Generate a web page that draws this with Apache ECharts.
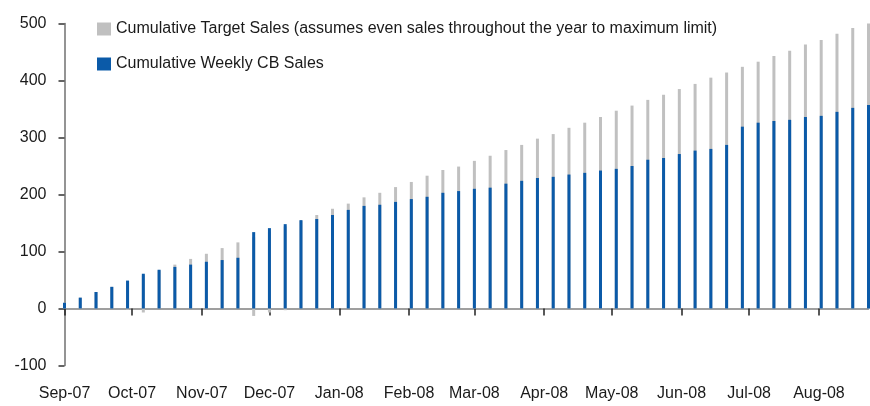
<!DOCTYPE html>
<html>
<head>
<meta charset="utf-8">
<script src="https://cdn.jsdelivr.net/npm/echarts@6/dist/echarts.min.js"></script>
<style>
  html, body { margin: 0; padding: 0; background: #fff; }
  #chart { width: 870px; height: 406px; }
</style>
</head>
<body>
<div id="chart"></div>
<script>
// weekly points, Sep-07 .. Aug-08
var weeks = [
  '2007-09-01', '2007-09-08', '2007-09-15', '2007-09-22', '2007-09-29',
  '2007-10-06', '2007-10-13', '2007-10-20', '2007-10-27',
  '2007-11-03', '2007-11-10', '2007-11-17', '2007-11-24',
  '2007-12-01', '2007-12-08', '2007-12-15', '2007-12-22', '2007-12-29',
  '2008-01-05', '2008-01-12', '2008-01-19', '2008-01-26',
  '2008-02-02', '2008-02-09', '2008-02-16', '2008-02-23',
  '2008-03-01', '2008-03-08', '2008-03-15', '2008-03-22', '2008-03-29',
  '2008-04-05', '2008-04-12', '2008-04-19', '2008-04-26',
  '2008-05-03', '2008-05-10', '2008-05-17', '2008-05-24', '2008-05-31',
  '2008-06-07', '2008-06-14', '2008-06-21', '2008-06-28',
  '2008-07-05', '2008-07-12', '2008-07-19', '2008-07-26',
  '2008-08-02', '2008-08-09', '2008-08-16', '2008-08-23'
];

var targetSales = [
  10, 19, 29, 38, 48, 58, 67, 77, 87, 96, 106, 116, 125,
  135, 144, 154, 164, 175, 184, 195, 203, 213, 222, 233, 243, 249,
  259, 268, 278, 287, 298, 306, 317, 326, 336, 347, 356, 366, 375,
  385, 394, 405, 414, 424, 433, 443, 452, 463, 471, 482, 492, 500
];

var weeklyCB = [
  10, 19, 29, 38, 49, 61, 68, 73, 77, 82, 85, 89, 134,
  141, 148, 155, 157, 164, 173, 180, 182, 187, 192, 196, 203, 206,
  210, 212, 219, 224, 229, 231, 235, 238, 242, 245, 250, 261, 264,
  271, 277, 280, 287, 319, 326, 329, 331, 336, 338, 345, 352, 357
];

// small grey marks under the zero line
var belowZero = [
  0, 0, 0, 0, -2, -7, 0, 0, 0, 0, 0, 0, -13,
  -7, -3, 0, 0, 0, 0, 0, 0, 0, 0, 0, 0, 0,
  0, 0, 0, 0, 0, 0, 0, 0, 0, 0, 0, 0, 0,
  0, 0, 0, 0, 0, 0, 0, 0, 0, 0, 0, 0, 0
];

var monthStarts = [
  '2007-09-01', '2007-10-01', '2007-11-01', '2007-12-01', '2008-01-01', '2008-02-01',
  '2008-03-01', '2008-04-01', '2008-05-01', '2008-06-01', '2008-07-01', '2008-08-01'
];
var monthLabels = [
  'Sep-07', 'Oct-07', 'Nov-07', 'Dec-07', 'Jan-08', 'Feb-08',
  'Mar-08', 'Apr-08', 'May-08', 'Jun-08', 'Jul-08', 'Aug-08'
];

var yTicks = { min: -100, max: 500, step: 100 };

var GREY = '#c0c0c0';
var BLUE = '#0b5aa8';
var FONT = 'Liberation Sans, Arial, sans-serif';
var DAY = 86400000;

// days since first week, as plain numbers for a value axis
function dayNo(d) {
  var p = d.split('-');
  var t = Date.UTC(+p[0], +p[1] - 1, +p[2]);
  var p0 = weeks[0].split('-');
  return Math.round((t - Date.UTC(+p0[0], +p0[1] - 1, +p0[2])) / DAY);
}

var monthDays = monthStarts.map(dayNo);
var xMin = dayNo(weeks[0]);
var xMax = dayNo(weeks[weeks.length - 1]);

function pairs(vals) {
  return weeks.map(function (w, i) { return [dayNo(w), vals[i]]; });
}

function monthName(v) {
  for (var i = 0; i < monthDays.length; i++) {
    if (Math.abs(monthDays[i] - v) < 0.5) return monthLabels[i];
  }
  return '';
}

var chart = echarts.init(document.getElementById('chart'));

chart.setOption({
  animation: false,
  textStyle: { fontFamily: FONT },
  grid: { left: 64.5, right: 1.5, top: 23.5, bottom: 40.5, outerBoundsMode: 'none' },
  legend: {
    orient: 'vertical',
    left: 92,
    top: 16,
    itemWidth: 14,
    itemHeight: 13,
    itemGap: 19,
    icon: 'rect',
    data: ['Cumulative Target Sales (assumes even sales throughout the year to maximum limit)', 'Cumulative Weekly CB Sales'],
    textStyle: { fontSize: 16, color: '#1a1a1a', fontFamily: FONT, lineHeight: 16 }
  },
  xAxis: [
    {
      // line at zero with month ticks
      type: 'value',
      min: xMin,
      max: xMax,
      splitLine: { show: false },
      axisLine: { onZero: true, lineStyle: { color: '#808080', width: 1.5 } },
      axisTick: {
        show: true, length: 7, inside: false,
        customValues: monthDays,
        lineStyle: { color: '#222', width: 1.5 }
      },
      axisLabel: { show: false }
    },
    {
      // month names along the bottom
      type: 'value',
      position: 'bottom',
      min: xMin,
      max: xMax,
      splitLine: { show: false },
      axisLine: { show: false, onZero: false },
      axisTick: { show: false },
      axisLabel: {
        customValues: monthDays,
        margin: 20,
        fontSize: 16,
        color: '#1a1a1a',
        showMinLabel: true,
        showMaxLabel: true,
        hideOverlap: false,
        formatter: monthName
      }
    }
  ],
  yAxis: {
    type: 'value',
    min: yTicks.min,
    max: yTicks.max,
    interval: yTicks.step,
    splitLine: { show: false },
    axisLine: { show: true, lineStyle: { color: '#707070', width: 1.5 } },
    axisTick: { show: true, length: 6, lineStyle: { color: '#333', width: 1.5 } },
    axisLabel: { fontSize: 16, color: '#1a1a1a', margin: 18 }
  },
  series: [
    {
      name: 'Cumulative Target Sales (assumes even sales throughout the year to maximum limit)',
      type: 'bar',
      barWidth: 3,
      barGap: '-100%',
      clip: false,
      itemStyle: { color: GREY },
      data: pairs(targetSales)
    },
    {
      name: 'grey below zero',
      type: 'bar',
      barWidth: 3,
      barGap: '-100%',
      clip: false,
      itemStyle: { color: GREY },
      data: pairs(belowZero)
    },
    {
      name: 'Cumulative Weekly CB Sales',
      type: 'bar',
      barWidth: 3,
      barGap: '-100%',
      clip: false,
      itemStyle: { color: BLUE },
      data: pairs(weeklyCB)
    }
  ]
});
</script>
</body>
</html>
